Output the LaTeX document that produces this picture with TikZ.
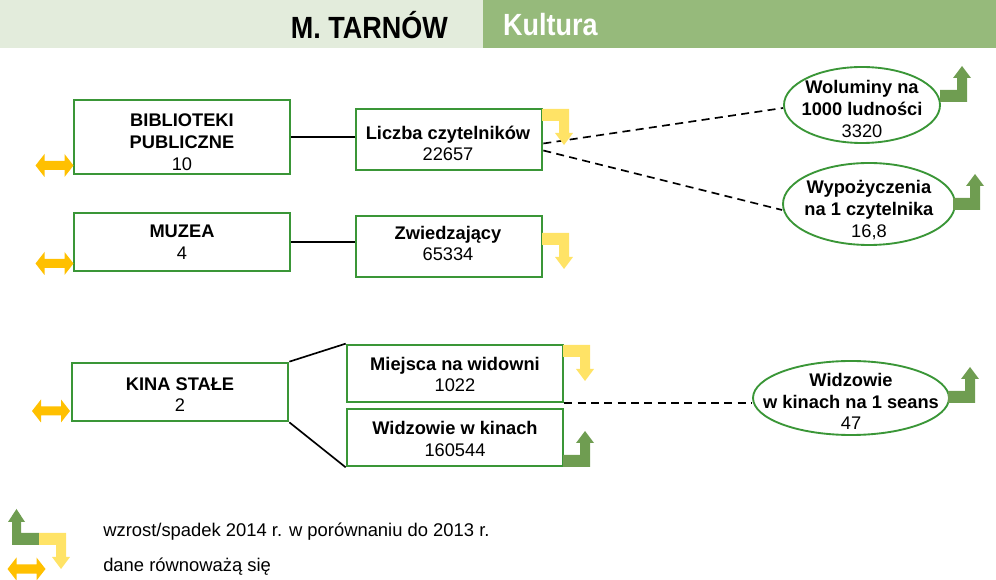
\documentclass[tikz,border=0pt]{standalone}
\usepackage{fontspec}
\setmainfont{Liberation Sans}
\usetikzlibrary{calc,shapes.geometric}
\definecolor{hdrlight}{HTML}{E3ECDC}
\definecolor{hdrgreen}{HTML}{96BA7B}
\definecolor{boxgreen}{HTML}{3A9637}
\definecolor{upgreen}{HTML}{6F9D51}
\definecolor{downyellow}{HTML}{FFE366}
\definecolor{eqorange}{HTML}{FFC000}
\newcommand\icnUp[2]{\fill[upgreen,shift={(#1,#2)}] (0,0) -- (27,0) -- (27,-24) -- (31,-24) -- (22,-36) -- (13,-24) -- (17,-24) -- (17,-12) -- (0,-12) -- cycle;}
\newcommand\icnDown[2]{\fill[downyellow,shift={(#1,#2)}] (0,0) -- (27,0) -- (27,24) -- (31,24) -- (22,36) -- (13,24) -- (17,24) -- (17,12) -- (0,12) -- cycle;}
\newcommand\icnEq[2]{\fill[eqorange,shift={(#1,#2)}] (-19,0) -- (-10,-11.5) -- (-10,-4.5) -- (10,-4.5) -- (10,-11.5) -- (19,0) -- (10,11.5) -- (10,4.5) -- (-10,4.5) -- (-10,11.5) -- cycle;}
\begin{document}
\begin{tikzpicture}[x=0.75pt,y=-0.75pt,
  box/.style={draw=boxgreen,line width=2pt,fill=white,inner sep=0pt},
  oval/.style={ellipse,draw=boxgreen,line width=1.4pt,fill=white,inner sep=0pt},
  txt/.style={align=center,inner sep=0pt,font=\fontsize{13.7}{16.3}\selectfont},
  legtxt/.style={anchor=west,inner sep=0pt,font=\fontsize{13.8}{16}\selectfont},
  hdrtxt/.style={inner sep=0pt,font=\fontsize{23}{26}\selectfont\bfseries,xscale=0.88},
  solidline/.style={draw=black,line width=1.25pt},
  dashline/.style={draw=black,line width=1.25pt,dash pattern=on 6pt off 4pt}]
\useasboundingbox (0,0) rectangle (996,580);
\clip (0,0) rectangle (996,580);
% header
\fill[hdrlight] (0,0) rectangle (483,48);
\fill[hdrgreen] (483,0) rectangle (996,48);
\node[hdrtxt,anchor=east] (hdrA) at (448,25) {M. TARNÓW};
\node[hdrtxt,anchor=west,text=white] (hdrB) at (503,25) {Kultura};
% boxes
\node[box,minimum width=162pt,minimum height=55.5pt] (bib) at (182,137) {};
\node[box,minimum width=162pt,minimum height=43.5pt] (muz) at (182,242) {};
\node[box,minimum width=162pt,minimum height=43.5pt] (kina) at (180,392) {};
\node[box,minimum width=139.5pt,minimum height=45.75pt] (licz) at (449,139.5) {};
\node[box,minimum width=139.5pt,minimum height=45.75pt] (zwie) at (449,246.5) {};
\node[box,minimum width=162pt,minimum height=42.75pt] (miej) at (455,373.5) {};
\node[box,minimum width=162pt,minimum height=42.75pt] (widz) at (455,437.5) {};
\node[oval,minimum width=117pt,minimum height=57pt] (wol) at (862,105) {};
\node[oval,minimum width=129pt,minimum height=61.5pt] (wyp) at (869,204) {};
\node[oval,minimum width=147pt,minimum height=55.5pt] (sea) at (851,398) {};
% texts
\node[txt] (bibT) at (182,142) {\textbf{BIBLIOTEKI}\\\textbf{PUBLICZNE}\\10};
\node[txt] (muzT) at (182,242.5) {\textbf{MUZEA}\\4};
\node[txt] (kinaT) at (180,394.5) {\textbf{KINA STAŁE}\\2};
\node[txt] (liczT) at (448,143.5) {\textbf{Liczba czytelników}\\22657};
\node[txt] (zwieT) at (448,243.5) {\textbf{Zwiedzający}\\65334};
\node[txt] (miejT) at (455,374.5) {\textbf{Miejsca na widowni}\\1022};
\node[txt] (widzT) at (455,439) {\textbf{Widzowie w kinach}\\160544};
\node[txt] (wolT) at (862,109) {\textbf{Woluminy na}\\\textbf{1000 ludności}\\3320};
\node[txt] (wypT) at (869,210) {\textbf{Wypożyczenia}\\\textbf{na 1 czytelnika}\\16,8};
\node[txt] (seaT) at (851,401.5) {\textbf{Widzowie}\\\textbf{w kinach na 1 seans}\\47};
% connectors
\draw[solidline] (bib.east) -- (bib.east -| licz.west);
\draw[solidline] (muz.east) -- (muz.east -| zwie.west);
\draw[solidline] (kina.north east) -- (miej.north west);
\draw[solidline] (kina.south east) -- (widz.south west);
\draw[dashline] ($(licz.east)+(0,4)$) -- ($(wol.west)+(0,3)$);
\draw[dashline] ($(licz.east)+(0,11)$) -- ($(wyp.west)+(0,6)$);
\draw[dashline] (miej.south east) -- (sea.west |- miej.south east);
% change icons
\icnDown{542}{109}
\icnDown{542}{233}
\icnDown{563}{345}
\icnUp{563}{467}
\icnUp{940}{102}
\icnUp{953}{210}
\icnUp{948}{403}
\icnEq{54.5}{165.5}
\icnEq{54.5}{263.5}
\icnEq{51}{411}
% legend
\fill[upgreen] (12,545) -- (39,545) -- (39,533) -- (21,533) -- (21,522) -- (25,522) -- (16.5,509) -- (8,522) -- (12,522) -- cycle;
\icnDown{39}{533}
\icnEq{26.5}{569}
\node[legtxt] (leg1) at (103,532) {wzrost/spadek 2014 r. w porównaniu do 2013 r.};
\node[legtxt] (leg2) at (103,567) {dane równoważą się};
\end{tikzpicture}
\end{document}
